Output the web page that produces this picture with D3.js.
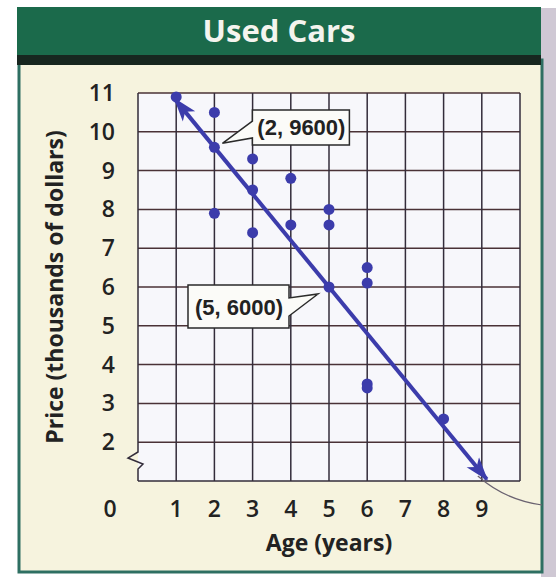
<!DOCTYPE html>
<html>
<head>
<meta charset="utf-8">
<script src="https://cdn.jsdelivr.net/npm/d3@7"></script>
<style>
  body { margin: 0; background: #fff; }
  text { font-family: "Open Sans", "Noto Sans", sans-serif; }
</style>
</head>
<body>
<div class="board"></div>
<script>
// data
var ages   = [1, 2, 2, 2, 3, 3, 3, 4, 4, 5, 5, 5, 6, 6, 6, 6, 8];
var prices = [10.9, 10.5, 9.6, 7.9, 9.3, 8.5, 7.4, 8.8, 7.6, 8.0, 7.6, 6.0, 6.5, 6.1, 3.5, 3.4, 2.6];
var xTicks = [1, 2, 3, 4, 5, 6, 7, 8, 9];
var yTicks = [2, 3, 4, 5, 6, 7, 8, 9, 10, 11];
var trendSlope = -1.2, trendIntercept = 12;   // thousands of dollars
var trendFrom = 0.97, trendTo = 9.13;
var calloutX = [2, 5];
var calloutY = [9.6, 6.0];
var calloutText = ['(2, 9600)', '(5, 6000)'];

var W = 556, H = 577;
var svg = d3.select('.board')
  .append('svg')
  .attr('width', W)
  .attr('height', H);

// grey shading to the right of the page
svg.append('rect').attr('x', 541).attr('y', 8).attr('width', 15).attr('height', 569)
  .style('fill', '#cfc8d4');

// cream panel
svg.append('rect')
  .attr('x', 19).attr('y', 60).attr('width', 523).attr('height', 512)
  .style('fill', '#f6f3de')
  .style('stroke', '#2e6f62')
  .style('stroke-width', 3);

// header
svg.append('rect').attr('x', 17).attr('y', 7).attr('width', 524).attr('height', 54)
  .style('fill', '#1b6a4b');
svg.append('rect').attr('x', 17).attr('y', 55).attr('width', 524).attr('height', 10)
  .style('fill', '#17261f');
svg.append('text')
  .attr('x', 279).attr('y', 42)
  .attr('text-anchor', 'middle')
  .style('font-size', '31px').style('font-weight', 'bold')
  .style('fill', '#f4f4ee')
  .text('Used Cars');

var x = d3.scaleLinear().domain([0, 10]).range([138, 520]);
var y = d3.scaleLinear().domain([1, 11]).range([481, 93]);

// grid background
svg.append('rect')
  .attr('x', x(0)).attr('y', y(11))
  .attr('width', x(10) - x(0)).attr('height', y(1) - y(11))
  .style('fill', '#f7f7fb');

var grid = svg.append('g');
grid.selectAll('.h')
  .data(d3.range(2, 12))
  .enter().append('line')
  .attr('x1', x(0)).attr('x2', x(10))
  .attr('y1', function(d) { return y(d); })
  .attr('y2', function(d) { return y(d); })
  .style('stroke', '#4a3236').style('stroke-width', 1.5);
grid.selectAll('.v')
  .data(d3.range(1, 11))
  .enter().append('line')
  .attr('y1', y(11)).attr('y2', y(1))
  .attr('x1', function(d) { return x(d); })
  .attr('x2', function(d) { return x(d); })
  .style('stroke', '#332c3a').style('stroke-width', 1.5);
// bottom edge
grid.append('line')
  .attr('x1', x(0)).attr('x2', x(10)).attr('y1', y(1)).attr('y2', y(1))
  .style('stroke', '#332c3a').style('stroke-width', 1.5);
// left edge with axis break
var bx = x(0);
grid.append('path')
  .attr('d', 'M' + bx + ',' + y(11) + 'V452 L' + (bx - 10) + ',458 L' + (bx + 5) + ',464 L' + bx + ',469 V' + y(1))
  .style('fill', 'none').style('stroke', '#332c3a').style('stroke-width', 1.5);

// thin curve off the bottom right
svg.append('path')
  .attr('d', 'M' + (x(9) - 4) + ',' + (y(1) - 5) + ' Q505,500 542,505')
  .style('fill', 'none').style('stroke', '#6a6270').style('stroke-width', 1.2);

// tick labels
svg.selectAll('.yl')
  .data(yTicks)
  .enter().append('text')
  .attr('x', 115)
  .attr('y', function(d) { return y(d) + 8; })
  .attr('text-anchor', 'end')
  .style('font-size', '23px').style('font-weight', 600).style('fill', '#222')
  .text(function(d) { return d; });
svg.selectAll('.xl')
  .data(xTicks)
  .enter().append('text')
  .attr('x', function(d) { return x(d); })
  .attr('y', 517)
  .attr('text-anchor', 'middle')
  .style('font-size', '23px').style('font-weight', 600).style('fill', '#222')
  .text(function(d) { return d; });
svg.append('text')
  .attr('x', 110).attr('y', 517)
  .attr('text-anchor', 'middle')
  .style('font-size', '23px').style('font-weight', 600).style('fill', '#222')
  .text('0');

// axis titles
svg.append('text')
  .attr('x', x(5)).attr('y', 551)
  .attr('text-anchor', 'middle')
  .style('font-size', '23px').style('font-weight', 'bold').style('fill', '#222')
  .text('Age (years)');
svg.append('text')
  .attr('transform', 'translate(63,' + ((y(11) + y(1)) / 2) + ') rotate(-90)')
  .attr('text-anchor', 'middle')
  .style('font-size', '23px').style('font-weight', 'bold').style('fill', '#222')
  .text('Price (thousands of dollars)');

var blue = '#3c3cab';

// arrow marker
var defs = svg.append('defs');
defs.append('marker')
  .attr('id', 'arrow')
  .attr('markerUnits', 'userSpaceOnUse')
  .attr('viewBox', '0 0 24 18')
  .attr('refX', 22).attr('refY', 9)
  .attr('markerWidth', 24).attr('markerHeight', 18)
  .attr('orient', 'auto-start-reverse')
  .append('path')
  .attr('d', 'M0,1 L24,9 L0,17 L6,9 Z')
  .style('fill', blue);

// trend line
svg.append('line')
  .attr('x1', x(trendFrom)).attr('y1', y(trendIntercept + trendSlope * trendFrom))
  .attr('x2', x(trendTo)).attr('y2', y(trendIntercept + trendSlope * trendTo))
  .style('stroke', blue).style('stroke-width', 4)
  .attr('marker-start', 'url(#arrow)')
  .attr('marker-end', 'url(#arrow)');

// points
svg.selectAll('.pt')
  .data(ages)
  .enter().append('circle')
  .attr('cx', function(d) { return x(d); })
  .attr('cy', function(d, i) { return y(prices[i]); })
  .attr('r', 5.5)
  .style('fill', blue);

// callouts
var p0x = x(calloutX[0]), p0y = y(calloutY[0]);
svg.append('path')
  .attr('d', 'M' + (p0x + 38) + ',110 H' + (p0x + 135) + ' V145 H' + (p0x + 38) + ' V138 L' + (p0x + 8) + ',' + (p0y - 4) + ' L' + (p0x + 38) + ',121 Z')
  .style('fill', '#fbfbf8').style('stroke', '#2a2a2a').style('stroke-width', 1.5);
svg.append('text')
  .attr('x', p0x + 87).attr('y', 135)
  .attr('text-anchor', 'middle')
  .style('font-family', '"Liberation Sans Narrow", "Arial Narrow", sans-serif')
  .style('font-size', '22px').style('font-weight', 'bold').style('fill', '#222')
  .text(calloutText[0]);

var p1x = x(calloutX[1]), p1y = y(calloutY[1]);
svg.append('path')
  .attr('d', 'M' + (p1x - 40) + ',' + (p1y - 2) + ' H' + (p1x - 141) + ' V' + (p1y + 41) + ' H' + (p1x - 40) + ' V' + (p1y + 29) + ' L' + (p1x - 11) + ',' + (p1y + 7) + ' L' + (p1x - 40) + ',' + (p1y + 11) + ' Z')
  .style('fill', '#fbfbf8').style('stroke', '#2a2a2a').style('stroke-width', 1.5);
svg.append('text')
  .attr('x', p1x - 90).attr('y', p1y + 28)
  .attr('text-anchor', 'middle')
  .style('font-family', '"Liberation Sans Narrow", "Arial Narrow", sans-serif')
  .style('font-size', '22px').style('font-weight', 'bold').style('fill', '#222')
  .text(calloutText[1]);
</script>
</body>
</html>
